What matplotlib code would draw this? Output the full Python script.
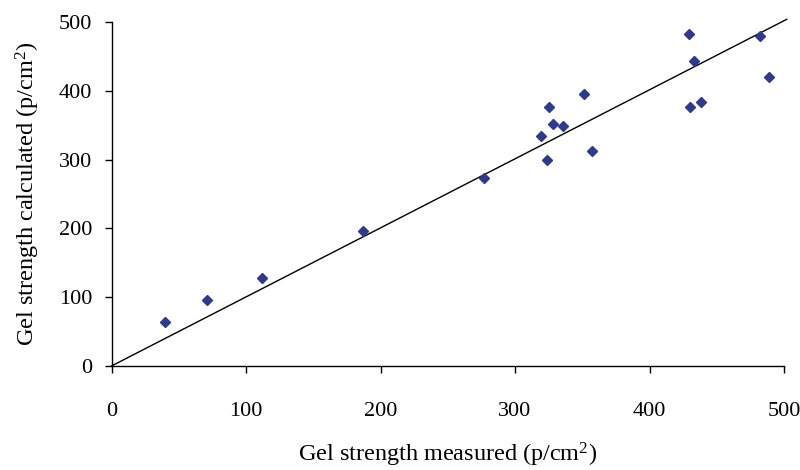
import matplotlib
matplotlib.use("Agg")
import matplotlib.pyplot as plt

measured = [40, 71, 112, 187, 277, 319, 324, 325, 328, 336, 351, 357, 429, 430, 433, 438, 482, 489]
calculated = [64, 96, 128, 196, 273, 334, 299, 376, 352, 349, 395, 312, 483, 376, 443, 384, 480, 420]
line_x = [0, 502]
line_y = [0, 504]
ticks = [0, 100, 200, 300, 400, 500]

plt.rcParams['font.family'] = ['Liberation Serif', 'DejaVu Serif']
plt.rcParams['mathtext.default'] = 'regular'

fig = plt.figure(figsize=(8, 4.7), dpi=100)
ax = fig.add_axes([0.1394, 0.2213, 0.8406, 0.7317])

ax.plot(line_x, line_y, color='black', lw=1.0, clip_on=False, zorder=2)
ax.plot(measured, calculated, linestyle='none', marker='D', markersize=4.8,
        color='#2E3A8E', markeredgecolor='#2E3A8E', clip_on=False, zorder=3)

ax.set_xlim(0, 500)
ax.set_ylim(0, 500)
ax.set_xticks(ticks)
ax.set_yticks(ticks)
for s in ['top', 'right']:
    ax.spines[s].set_visible(False)
for s in ['left', 'bottom']:
    ax.spines[s].set_linewidth(1.0)
ax.tick_params(axis='x', direction='out', length=5, width=1, pad=21, labelsize=16)
ax.tick_params(axis='y', direction='out', length=5, width=1, pad=9, labelsize=16)

ax.set_xlabel('Gel strength measured (p/cm$^{2}$)', fontsize=17.5, labelpad=14)
ax.set_ylabel('Gel strength calculated (p/cm$^{2}$)', fontsize=17.5, labelpad=12)

fig.savefig('out.png', dpi=100)
